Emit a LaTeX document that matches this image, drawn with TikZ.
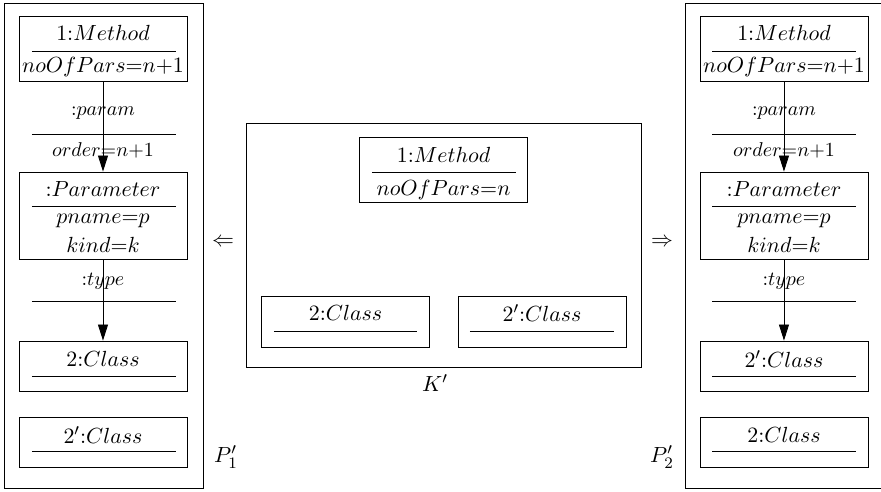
\documentclass[11pt,tikz,border=0pt]{standalone}
\usetikzlibrary{arrows.meta}

\begin{document}
\begin{tikzpicture}[
    obj/.style={draw, minimum width=2.95cm, inner sep=0pt},
    lbl/.style={inner sep=0pt},
    elbl/.style={inner sep=0pt, font=\small},
    >={Triangle[length=8pt,width=5pt]}]
    \useasboundingbox (0,0) rectangle (15.482,8.646);
    % Regola sinistra P1'
    \draw (0.070,0.070) rectangle (3.567,8.593);
    \node[obj, minimum height=1.142cm] (mL) at (1.810,7.794) {};
    \node[lbl] (mLa) at (1.810,8.066) {1:$Method$};
    \draw (0.562,7.750) -- (3.093,7.750);
    \node[lbl] (mLb) at (1.810,7.469) {$noOfPars{=}n{+}1$};
    \node[elbl] (pL) at (1.810,6.660) {:$param$};
    \draw (0.562,6.291) -- (3.093,6.291);
    \node[elbl] (oL) at (1.810,6.010) {$order{=}n{+}1$};
    \node[obj, minimum height=1.529cm] (parL) at (1.810,4.859) {};
    \node[lbl] (parLa) at (1.810,5.325) {:$Parameter$};
    \draw (0.562,5.026) -- (3.093,5.026);
    \node[lbl] (parLb) at (1.810,4.762) {$pname{=}p$};
    \node[lbl] (parLc) at (1.810,4.341) {$kind{=}k$};
    \node[elbl] (tL) at (1.810,3.708) {:$type$};
    \draw (0.562,3.356) -- (3.093,3.356);
    \node[obj, minimum height=0.879cm] (caL) at (1.810,2.214) {};
    \node[lbl] (caLa) at (1.810,2.337) {2:$Class$};
    \draw (0.562,2.038) -- (3.093,2.038);
    \node[obj, minimum height=0.879cm] (cbL) at (1.810,0.879) {};
    \node[lbl] (cbLa) at (1.810,1.002) {$2'$:$Class$};
    \draw (0.562,0.720) -- (3.093,0.720);
    \draw[->] (mL) -- (parL);
    \draw[->] (parL) -- (caL);
    \node (P1) at (3.971,0.615) {$P'_1$};
    \node (arrL) at (3.919,4.376) {$\Leftarrow$};
    % Interfaccia K'
    \draw (4.323,2.197) rectangle (11.264,6.484);
    \node[obj, minimum height=1.142cm] (mK) at (7.794,5.667) {};
    \node[lbl] (mKa) at (7.794,5.922) {1:$Method$};
    \draw (6.537,5.623) -- (9.068,5.623);
    \node[lbl] (mKb) at (7.794,5.307) {$noOfPars{=}n$};
    \node[obj, minimum height=0.896cm] (caK) at (6.071,2.996) {};
    \node[lbl] (caKa) at (6.071,3.146) {2:$Class$};
    \draw (4.815,2.829) -- (7.328,2.829);
    \node[obj, minimum height=0.896cm] (cbK) at (9.525,2.996) {};
    \node[lbl] (cbKa) at (9.525,3.146) {$2'$:$Class$};
    \draw (8.259,2.829) -- (10.790,2.829);
    \node (K) at (7.644,1.915) {$K'$};
    % Regola destra P2'
    \node (arrR) at (11.633,4.376) {$\Rightarrow$};
    \node (P2) at (11.633,0.615) {$P'_2$};
    \draw (12.038,0.070) rectangle (15.517,8.593);
    \node[obj, minimum height=1.142cm] (mR) at (13.777,7.794) {};
    \node[lbl] (mRa) at (13.777,8.066) {1:$Method$};
    \draw (12.512,7.750) -- (15.042,7.750);
    \node[lbl] (mRb) at (13.777,7.469) {$noOfPars{=}n{+}1$};
    \node[elbl] (pR) at (13.777,6.660) {:$param$};
    \draw (12.512,6.291) -- (15.042,6.291);
    \node[elbl] (oR) at (13.777,6.010) {$order{=}n{+}1$};
    \node[obj, minimum height=1.529cm] (parR) at (13.777,4.859) {};
    \node[lbl] (parRa) at (13.777,5.325) {:$Parameter$};
    \draw (12.512,5.026) -- (15.042,5.026);
    \node[lbl] (parRb) at (13.777,4.762) {$pname{=}p$};
    \node[lbl] (parRc) at (13.777,4.341) {$kind{=}k$};
    \node[elbl] (tR) at (13.777,3.708) {:$type$};
    \draw (12.512,3.356) -- (15.042,3.356);
    \node[obj, minimum height=0.879cm] (caR) at (13.777,2.214) {};
    \node[lbl] (caRa) at (13.777,2.337) {$2'$:$Class$};
    \draw (12.512,2.038) -- (15.042,2.038);
    \node[obj, minimum height=0.879cm] (cbR) at (13.777,0.879) {};
    \node[lbl] (cbRa) at (13.777,1.002) {2:$Class$};
    \draw (12.512,0.720) -- (15.042,0.720);
    \draw[->] (mR) -- (parR);
    \draw[->] (parR) -- (caR);
\end{tikzpicture}
\end{document}
